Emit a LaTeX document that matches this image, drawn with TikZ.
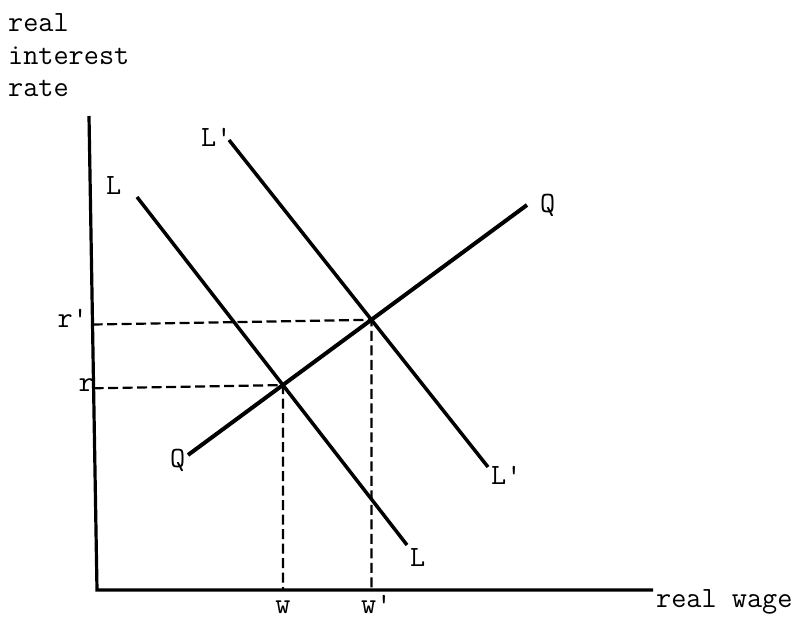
\documentclass[tikz,border=0pt]{standalone}
\usetikzlibrary{calc,positioning}
\begin{document}
\begin{tikzpicture}[x=1bp,y=-1bp,font=\ttfamily\fontsize{29.5}{33}\selectfont,
  ax/.style={line width=3.2bp},
  sched/.style={line width=3.5bp},
  guide/.style={line width=2.2bp,dash pattern=on 10bp off 4.5bp},
  lbl/.style={inner sep=0pt,anchor=base west}]
\useasboundingbox (0,0) rectangle (800,620);
\coordinate (ytop) at (89,116);
\coordinate (O) at (97,590);
\coordinate (xend) at (653,590);
\draw[ax] (ytop) -- (O) -- (xend);
\node[inner sep=0pt,anchor=north west,align=left] (ylab) at (8,13) {real\\interest\\rate};
\node[lbl] (xlab) at (656,607) {real wage};
\coordinate (L1) at (137,197); \coordinate (L2) at (407,545);
\coordinate (M1) at (229,140); \coordinate (M2) at (488,467);
\coordinate (Q1) at (188,455); \coordinate (Q2) at (527,205);
\draw[sched] (L1) -- (L2);
\draw[sched] (M1) -- (M2);
\draw[sched,line width=4bp] (Q1) -- (Q2);
\coordinate (E) at (intersection of L1--L2 and Q1--Q2);
\coordinate (F) at (intersection of M1--M2 and Q1--Q2);
\draw[guide] ($(ytop)!(E)!(O)$) -- (E) -- (E |- O);
\draw[guide] ($(ytop)!(F)!(O)$) -- (F) -- (F |- O);
\node[lbl] (Ltop) at (106,195) {L};
\node[lbl] (Mtop) at (201,147) {L'};
\node[lbl] (Qtop) at (540,213) {Q};
\node[lbl] (Qbot) at (170,467) {Q};
\node[lbl] (Mbot) at (491,484) {L'};
\node[lbl] (Lbot) at (410,566) {L};
\node[lbl,anchor=base east] (r) at (94,391) {r};
\node[lbl,anchor=base east] (rp) at (88,327) {r'};
\node[lbl,anchor=base] (w) at (E |- 0,613) {w};
\node[lbl] (wp) at (361,613) {w'};
\end{tikzpicture}
\end{document}
